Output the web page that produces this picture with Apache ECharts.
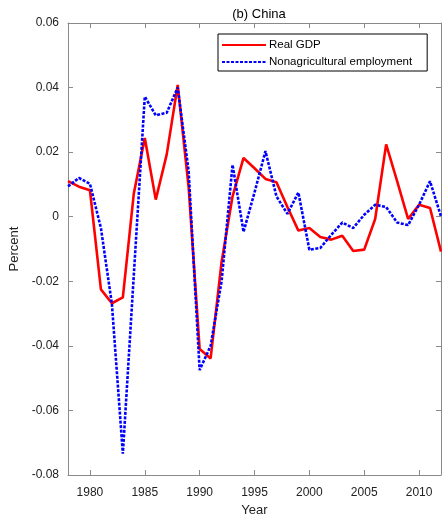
<!DOCTYPE html>
<html>
<head>
<meta charset="utf-8">
<script src="https://cdn.jsdelivr.net/npm/echarts@6/dist/echarts.min.js"></script>
<style>
  html, body { margin: 0; padding: 0; background: #fff; }
  #chart { width: 442px; height: 516px; }
</style>
</head>
<body>
<div id="chart"></div>
<script>
// Cyclical components, China, 1978-2012
const years = [1978,1979,1980,1981,1982,1983,1984,1985,1986,1987,1988,1989,1990,1991,1992,1993,1994,1995,
               1996,1997,1998,1999,2000,2001,2002,2003,2004,2005,2006,2007,2008,2009,2010,2011,2012];
const realGDP = [0.011,0.0093,0.0082,-0.0225,-0.0268,-0.025,0.0072,0.0244,0.0053,0.0193,0.0408,0.009,
                 -0.041,-0.0439,-0.014,0.0063,0.0182,0.015,0.0117,0.0107,0.003,-0.0043,-0.0035,-0.0063,
                 -0.0071,-0.0059,-0.0106,-0.0102,-0.0007,0.0224,0.011,-0.0007,0.0037,0.0027,-0.0108];
const nonAgEmployment = [0.0094,0.012,0.0102,-0.0035,-0.027,-0.0734,-0.018,0.0372,0.0314,0.0322,0.040,0.014,
                 -0.0475,-0.040,-0.02,0.0161,-0.0047,0.0075,0.0203,0.0063,0.0009,0.0075,-0.0102,-0.0097,
                 -0.0056,-0.0018,-0.0035,0.0006,0.0037,0.003,-0.0018,-0.0026,0.0037,0.011,0.0001];
const yearTicks = [1980,1985,1990,1995,2000,2005,2010];
const seriesNames = ['Real GDP', 'Nonagricultural employment'];

const pair = (xs, ys) => xs.map((x, i) => [x, ys[i]]);
const axisGray = '#8a8a8a';
const font = '"Liberation Sans", Arial, sans-serif';
const fmtY = v => Math.abs(v) < 1e-9 ? '0' : v.toFixed(2);
const fmtX = v => String(Math.round(v));

const chart = echarts.init(document.getElementById('chart'), null, { renderer: 'canvas' });
chart.setOption({
  animation: false,
  backgroundColor: '#fff',
  title: {
    text: '(b) China',
    left: 254, top: 3, textAlign: 'center',
    textStyle: { fontFamily: font, fontSize: 13, fontWeight: 'normal', color: '#000' }
  },
  grid: { left: 68, right: 1, top: 23, bottom: 41, containLabel: false, outerBoundsMode: 'none' },
  legend: {
    left: 218, top: 34, orient: 'vertical',
    data: seriesNames,
    itemWidth: 44, itemHeight: 12, itemGap: 5,
    padding: [5, 15, 3, 3],
    borderColor: '#000', borderWidth: 1, backgroundColor: '#fff',
    itemStyle: { color: 'transparent', borderWidth: 0, opacity: 0 },
    textStyle: { fontFamily: font, fontSize: 11.5, color: '#000', padding: [0, 0, 0, -2] }
  },
  xAxis: [{
    type: 'value', min: 1978, max: 2012,
    name: 'Year', nameLocation: 'middle', nameGap: 29,
    nameTextStyle: { fontFamily: font, fontSize: 13, color: '#222' },
    axisLine: { show: true, onZero: false, lineStyle: { color: axisGray, width: 1 } },
    axisTick: { show: true, inside: true, length: 5, customValues: yearTicks, lineStyle: { color: axisGray } },
    axisLabel: { customValues: yearTicks, formatter: fmtX, margin: 12, fontFamily: font, fontSize: 12, color: '#222' },
    splitLine: { show: false }
  }, {
    type: 'value', min: 1978, max: 2012, position: 'top',
    axisLine: { show: true, onZero: false, lineStyle: { color: axisGray, width: 1 } },
    axisTick: { show: true, inside: true, length: 5, customValues: yearTicks, lineStyle: { color: axisGray } },
    axisLabel: { show: false },
    splitLine: { show: false }
  }],
  yAxis: [{
    type: 'value', min: -0.08, max: 0.06, interval: 0.02,
    name: 'Percent', nameLocation: 'middle', nameGap: 42,
    nameTextStyle: { fontFamily: font, fontSize: 13, color: '#222' },
    axisLine: { show: true, onZero: false, lineStyle: { color: axisGray, width: 1 } },
    axisTick: { show: true, inside: true, length: 5, lineStyle: { color: axisGray } },
    axisLabel: { formatter: fmtY, margin: 9, fontFamily: font, fontSize: 12, color: '#222' },
    splitLine: { show: false }
  }, {
    type: 'value', min: -0.08, max: 0.06, interval: 0.02, position: 'right',
    axisLine: { show: true, onZero: false, lineStyle: { color: axisGray, width: 1 } },
    axisTick: { show: true, inside: true, length: 5, lineStyle: { color: axisGray } },
    axisLabel: { show: false },
    splitLine: { show: false }
  }],
  series: [{
    name: seriesNames[0], type: 'line',
    data: pair(years, realGDP),
    showSymbol: false, symbol: 'none', z: 3,
    lineStyle: { color: '#ff0000', width: 2.6 },
    itemStyle: { color: '#ff0000' }
  }, {
    name: seriesNames[1], type: 'line',
    data: pair(years, nonAgEmployment),
    showSymbol: false, symbol: 'none', z: 4,
    lineStyle: { color: '#0000ff', width: 2.6, type: [3, 1.5] },
    itemStyle: { color: '#0000ff' }
  }]
});
</script>
</body>
</html>
